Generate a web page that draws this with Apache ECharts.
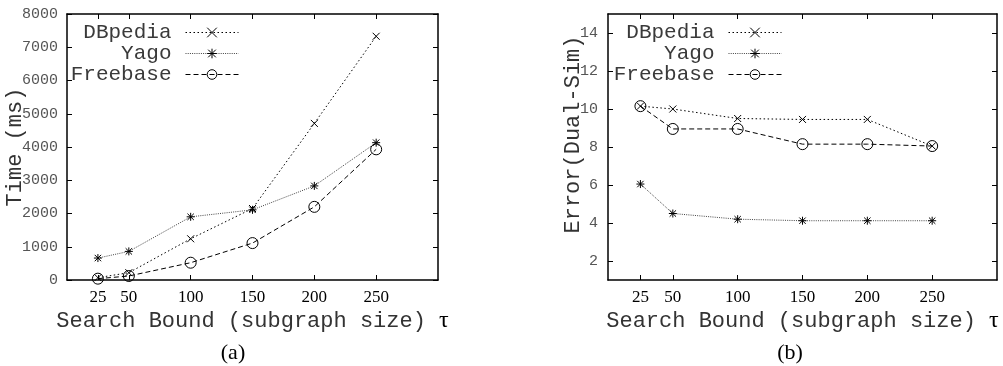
<!DOCTYPE html>
<html><head><meta charset="utf-8">
<script src="https://cdn.jsdelivr.net/npm/echarts@6/dist/echarts.min.js"></script>
<style>html,body{margin:0;padding:0;background:#fff}#c{width:1003px;height:366px}</style>
</head><body><div id="c"></div>
<script>
// ---- data ----
const xValues = [25, 50, 100, 150, 200, 250];
const xTicks = [25, 50, 100, 150, 200, 250];
const seriesNames = ['DBpedia', 'Yago', 'Freebase'];
const timeDBpedia = [70, 220, 1240, 2150, 4710, 7330];
const timeYago = [660, 860, 1900, 2110, 2830, 4130];
const timeFreebase = [40, 120, 520, 1110, 2200, 3930];
const errDBpedia = [10.15, 10.0, 9.5, 9.45, 9.45, 8.05];
const errYago = [6.05, 4.5, 4.2, 4.12, 4.12, 4.12];
const errFreebase = [10.15, 8.95, 8.95, 8.15, 8.15, 8.05];
const errTicks = [2, 4, 6, 8, 10, 12, 14];
const xTitle = 'Search Bound (subgraph size) ';
const xTitleSym = 'τ';
const yTitleTime = 'Time (ms)';
const yTitleErr = 'Error(Dual-Sim)';
const captions = ['(a)', '(b)'];

// ---- styling ----
const mono = 'Liberation Mono';
const serif = 'Liberation Serif';
const symCross = 'path://M0,0L10,10M10,0L0,10';
const symStar = 'path://M1,1L9,9M9,1L1,9M5,0L5,10M0,5L10,5';
const symCircle = 'path://M10,5A5,5,0,1,1,0,5A5,5,0,1,1,10,5Z';
const styles = {
  DBpedia: {symbol: symCross, size: 7, line: {color: '#000', width: 1, type: [1.5, 2.5]}},
  Yago: {symbol: symStar, size: 8, line: {color: '#444', width: 1, type: [1, 1.2]}},
  Freebase: {symbol: symCircle, size: 11, line: {color: '#000', width: 1, type: [5, 3]}}
};
const zip = (xs, ys) => xs.map((x, i) => [x, ys[i]]);
const axisLineStyle = {onZero: false, lineStyle: {color: '#000', width: 1.5}};
const plain = v => String(v);

function xAxes(gi) {
  return [{
    gridIndex: gi, type: 'value', min: 0, max: 300, position: 'bottom',
    axisLine: axisLineStyle,
    axisTick: {inside: true, length: 5, customValues: xTicks, lineStyle: {color: '#000'}},
    axisLabel: {customValues: xTicks, formatter: plain, fontFamily: serif, fontSize: 17, color: '#000', margin: 9},
    splitLine: {show: false},
    name: '{a|' + xTitle + '}{b|' + xTitleSym + '}', nameLocation: 'middle', nameGap: 29,
    nameMoveOverlap: false,
    nameTextStyle: {rich: {a: {fontFamily: mono, fontSize: 22, color: '#333'}, b: {fontFamily: serif, fontSize: 24, color: '#000'}}}
  }, {
    gridIndex: gi, type: 'value', min: 0, max: 300, position: 'top',
    axisLine: axisLineStyle,
    axisTick: {inside: true, length: 5, customValues: xTicks, lineStyle: {color: '#000'}},
    axisLabel: {show: false}, splitLine: {show: false}
  }];
}
function makeSeries(name, data, xi, yi) {
  const s = styles[name];
  return {
    name: name, type: 'line', xAxisIndex: xi, yAxisIndex: yi, data: data,
    symbol: s.symbol, symbolSize: s.size, symbolKeepAspect: true, showAllSymbol: true,
    lineStyle: s.line,
    itemStyle: {color: 'transparent', borderColor: '#000', borderWidth: 1},
    emphasis: {disabled: true}, animation: false
  };
}
function legend(rightPx) {
  return {
    orient: 'vertical', align: 'right', right: rightPx, top: 22, padding: 0,
    itemWidth: 53, itemHeight: 12, itemGap: 0, selectedMode: false,
    itemStyle: {borderWidth: 1},
    lineStyle: {width: 1},
    formatter: n => '{n|' + n + '}{g|}',
    textStyle: {rich: {
      n: {fontFamily: mono, fontSize: 21, color: '#3a3a3a', lineHeight: 20},
      g: {width: 9}
    }},
    data: seriesNames
  };
}

const chart = echarts.init(document.getElementById('c'), null, {renderer: 'canvas'});
chart.setOption({
  animation: false,
  backgroundColor: '#fff',
  grid: [
    {left: 67, top: 14, width: 371, height: 266, outerBoundsMode: 'none', containLabel: false},
    {left: 608, top: 14, width: 389, height: 266, outerBoundsMode: 'none', containLabel: false}
  ],
  legend: [legend(1003 - 239), legend(1003 - 782)],
  xAxis: [...xAxes(0), ...xAxes(1)],
  yAxis: [
    {gridIndex: 0, type: 'value', min: 0, max: 8000, interval: 1000, position: 'left',
     axisLine: axisLineStyle,
     axisTick: {inside: true, length: 5, lineStyle: {color: '#000'}},
     axisLabel: {formatter: plain, fontFamily: mono, fontSize: 15, color: '#555', margin: 9},
     splitLine: {show: false},
     name: yTitleTime, nameLocation: 'middle', nameGap: 41, nameMoveOverlap: false,
     nameTextStyle: {fontFamily: mono, fontSize: 22, color: '#333'}},
    {gridIndex: 0, type: 'value', min: 0, max: 8000, interval: 1000, position: 'right',
     axisLine: axisLineStyle,
     axisTick: {inside: true, length: 5, lineStyle: {color: '#000'}},
     axisLabel: {show: false}, splitLine: {show: false}},
    {gridIndex: 1, type: 'value', min: 1, max: 15, position: 'left',
     axisLine: axisLineStyle,
     axisTick: {inside: true, length: 5, customValues: errTicks, lineStyle: {color: '#000'}},
     axisLabel: {customValues: errTicks, formatter: plain, fontFamily: mono, fontSize: 15, color: '#555', margin: 10},
     splitLine: {show: false},
     name: yTitleErr, nameLocation: 'middle', nameGap: 24, nameMoveOverlap: false,
     nameTextStyle: {fontFamily: mono, fontSize: 22, color: '#333', padding: [0, 0, 0, 25]}},
    {gridIndex: 1, type: 'value', min: 1, max: 15, position: 'right',
     axisLine: axisLineStyle,
     axisTick: {inside: true, length: 5, customValues: errTicks, lineStyle: {color: '#000'}},
     axisLabel: {show: false}, splitLine: {show: false}}
  ],
  series: [
    makeSeries('DBpedia', zip(xValues, timeDBpedia), 0, 0),
    makeSeries('Yago', zip(xValues, timeYago), 0, 0),
    makeSeries('Freebase', zip(xValues, timeFreebase), 0, 0),
    makeSeries('DBpedia', zip(xValues, errDBpedia), 2, 2),
    makeSeries('Yago', zip(xValues, errYago), 2, 2),
    makeSeries('Freebase', zip(xValues, errFreebase), 2, 2)
  ],
  graphic: [
    {type: 'text', x: 233, y: 353, style: {text: captions[0], font: '22px "Liberation Serif"', fill: '#000', align: 'center', verticalAlign: 'middle'}},
    {type: 'text', x: 790, y: 353, style: {text: captions[1], font: '22px "Liberation Serif"', fill: '#000', align: 'center', verticalAlign: 'middle'}}
  ]
});
</script></body></html>
